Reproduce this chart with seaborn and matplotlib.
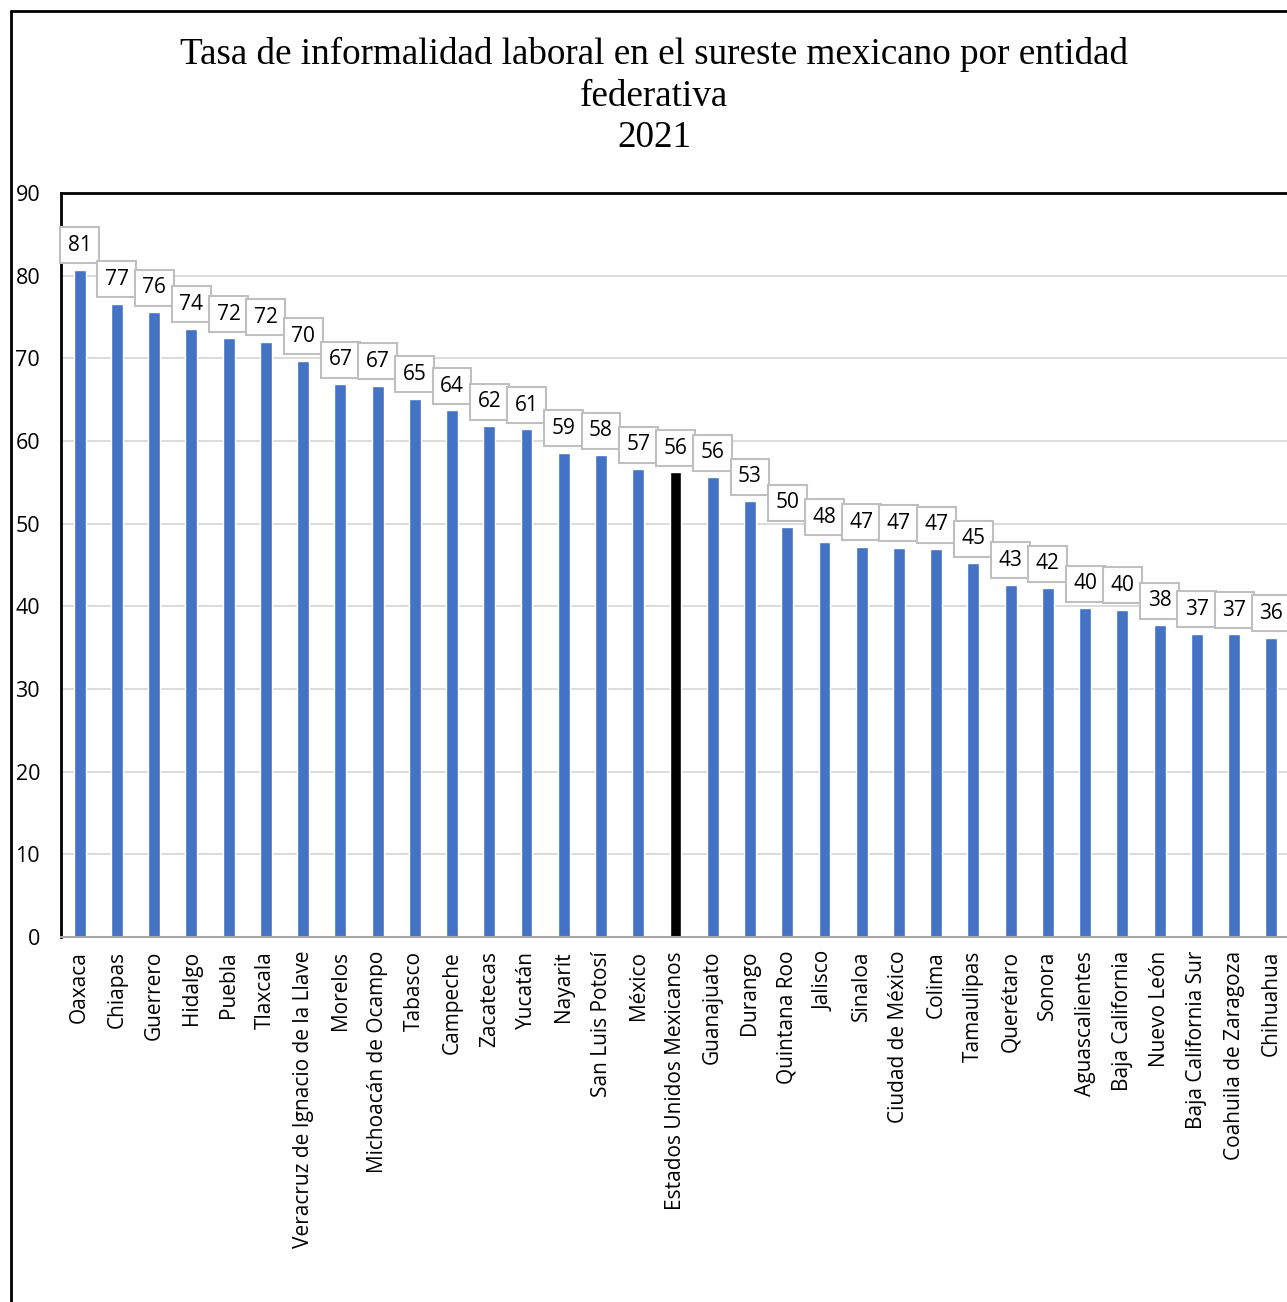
import matplotlib
matplotlib.use("Agg")
import matplotlib.pyplot as plt
from matplotlib.lines import Line2D
import seaborn as sns
import pandas as pd

estados = ["Oaxaca", "Chiapas", "Guerrero", "Hidalgo", "Puebla", "Tlaxcala",
           "Veracruz de Ignacio de la Llave", "Morelos", "Michoacán de Ocampo",
           "Tabasco", "Campeche", "Zacatecas", "Yucatán", "Nayarit",
           "San Luis Potosí", "México", "Estados Unidos Mexicanos", "Guanajuato",
           "Durango", "Quintana Roo", "Jalisco", "Sinaloa", "Ciudad de México",
           "Colima", "Tamaulipas", "Querétaro", "Sonora", "Aguascalientes",
           "Baja California", "Nuevo León", "Baja California Sur",
           "Coahuila de Zaragoza", "Chihuahua"]
tasa = [80.7, 76.6, 75.6, 73.6, 72.4, 72.0, 69.7, 66.9, 66.7, 65.1, 63.7, 61.8,
        61.4, 58.6, 58.3, 56.6, 56.2, 55.6, 52.7, 49.6, 47.8, 47.2, 47.1, 46.9,
        45.2, 42.6, 42.2, 39.8, 39.6, 37.7, 36.7, 36.6, 36.2]
etiquetas = ["81", "77", "76", "74", "72", "72", "70", "67", "67", "65", "64", "62",
             "61", "59", "58", "57", "56", "56", "53", "50", "48", "47", "47", "47",
             "45", "43", "42", "40", "40", "38", "37", "37", "36"]
y_ticks = [0, 10, 20, 30, 40, 50, 60, 70, 80, 90]

AZUL = "#4472C4"
colores = {e: ("#000000" if e == "Estados Unidos Mexicanos" else AZUL) for e in estados}

df = pd.DataFrame({"estado": estados, "tasa": tasa})

sns.set_style("white")
plt.rcParams["font.family"] = ["Open Sans", "DejaVu Sans"]
plt.rcParams["text.color"] = "black"
plt.rcParams["xtick.color"] = "black"
plt.rcParams["ytick.color"] = "black"

W, H = 1287, 1302
fig = plt.figure(figsize=(W / 100, H / 100), dpi=100)
ax = fig.add_axes([61 / W, (H - 937) / H, (1290 - 61) / W, (937 - 193) / H])

sns.barplot(data=df, x="estado", y="tasa", hue="estado", palette=colores,
            legend=False, width=0.32, ax=ax, saturation=1)

ax.set_xlim(-0.5, len(estados) - 0.5)
ax.set_ylim(0, 90)
ax.set_yticks(y_ticks)
ax.set_yticklabels([str(t) for t in y_ticks], fontsize=15.5)
ax.tick_params(axis="y", length=0, pad=15)
ax.tick_params(axis="x", length=0, pad=10)
ax.set_xticks(range(len(estados)))
ax.set_xticklabels(estados, rotation=90, fontsize=15)
ax.set_xlabel("")
ax.set_ylabel("")
ax.yaxis.grid(True, color="#d9d9d9", lw=1.3)
ax.set_axisbelow(True)

for side in ["top", "left"]:
    ax.spines[side].set_color("black")
    ax.spines[side].set_linewidth(2)
ax.spines["bottom"].set_color("#a6a6a6")
ax.spines["bottom"].set_linewidth(1.5)
ax.spines["right"].set_visible(False)

for i, (v, lab) in enumerate(zip(tasa, etiquetas)):
    ax.annotate(lab, xy=(i, v), xytext=(0, 10), textcoords="offset points",
                ha="center", va="bottom", fontsize=15, color="black",
                bbox=dict(boxstyle="square,pad=0.36", fc="white", ec="#bfbfbf", lw=1.5),
                annotation_clip=False)

fig.text(654 / W, 1 - 96 / H,
         "Tasa de informalidad laboral en el sureste mexicano por entidad\nfederativa\n2021",
         ha="center", va="center", fontsize=26.7, family="Liberation Serif",
         linespacing=1.26, color="black")

# outer chart border
fig.add_artist(Line2D([11 / W, 11 / W], [0, 1 - 11 / H], color="black", lw=2))
fig.add_artist(Line2D([11 / W, 1], [1 - 11 / H, 1 - 11 / H], color="black", lw=2))

fig.savefig("out.png", dpi=100, facecolor="white")
